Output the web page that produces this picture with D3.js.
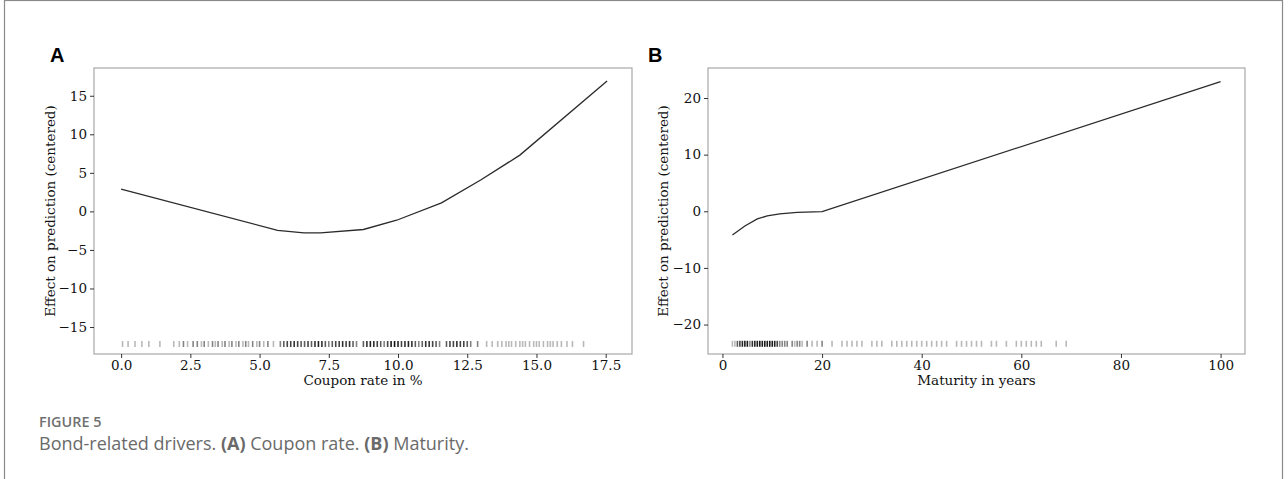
<!DOCTYPE html>
<html>
<head>
<meta charset="utf-8">
<script src="https://cdn.jsdelivr.net/npm/d3@7"></script>
<style>
    body { margin: 0; background: #fff; }
    .tick text { font-family: "DejaVu Serif", serif; font-size: 13.5px; fill: #111; }
    .tick line { stroke: #333; }
    .domain { display: none; }
    .pdp { fill: none; stroke: #2b2b2b; stroke-width: 1.3; }
    .axlabel { font-family: "DejaVu Serif", serif; font-size: 13.5px; fill: #111; }
    .panel { font-family: "Liberation Sans", Arial, sans-serif; font-weight: bold; font-size: 20px; }
</style>
</head>
<body>
<svg id="fig" width="1288" height="479"></svg>
<script>
    // panel A - coupon rate
    let couponX = [0, 5.65, 6.6, 7.2, 8.75, 9.95, 11.57, 13.0, 14.4, 17.55];
    let couponY = [2.9, -2.45, -2.78, -2.78, -2.35, -1.15, 1.1, 4.1, 7.3, 16.9];
    let couponYTicks = [-15, -10, -5, 0, 5, 10, 15];
    let couponXTicks = [0, 2.5, 5, 7.5, 10, 12.5, 15, 17.5];
    let couponRugLevel = -17.2;
    let couponRugValues = [0.05, 0.25, 0.5, 0.75, 1.0, 1.4, 1.9, 2.1, 2.25, 2.4, 2.6, 2.75, 2.9, 3.0, 3.15, 3.3, 3.4, 3.5, 3.65, 3.75, 3.9, 4.0, 4.15, 4.25, 4.4, 4.5, 4.6, 4.75, 4.9, 5.0, 5.15, 5.3, 5.5,
        5.75, 5.875, 6.0, 6.125, 6.25, 6.375, 6.5, 6.625, 6.75, 6.875, 7.0, 7.125, 7.25, 7.375, 7.5, 7.625, 7.75, 7.875, 8.0, 8.125, 8.25, 8.375, 8.5, 8.75, 8.875, 9.0, 9.125, 9.25, 9.375, 9.5, 9.625, 9.75, 9.875, 10.0, 10.125, 10.25, 10.375, 10.5, 10.625, 10.75, 10.875, 11.0, 11.125, 11.25, 11.375, 11.5, 11.75, 11.875, 12.0, 12.125, 12.25, 12.375, 12.5, 12.625, 12.875,
        13.2, 13.4, 13.6, 13.75, 13.9, 14.0, 14.1, 14.25, 14.4, 14.5, 14.6, 14.75, 14.9, 15.0, 15.1, 15.25, 15.4, 15.5, 15.6, 15.75, 15.9, 16.1, 16.3, 16.7];
    let couponRugCounts = [1, 1, 1, 1, 1, 1, 1, 1, 2, 1, 2, 2, 1, 2, 1, 2, 1, 2, 1, 2, 1, 2, 1, 2, 1, 2, 1, 2, 1, 2, 1, 2, 1,
        2, 3, 4, 4, 5, 4, 3, 3, 4, 3, 5, 6, 5, 3, 2, 3, 4, 4, 5, 4, 5, 3, 2, 3, 5, 6, 5, 4, 3, 2, 4, 7, 8, 6, 4, 5, 6, 5, 3, 2, 3, 5, 5, 4, 3, 2, 3, 4, 4, 5, 4, 4, 3, 2, 2,
        1, 1, 1, 1, 1, 1, 1, 1, 1, 1, 1, 1, 1, 1, 1, 1, 1, 1, 1, 1, 1, 1, 1, 1];

    // panel B - maturity
    let maturityX = [2, 4.5, 7, 9, 11.5, 15, 20, 100];
    let maturityY = [-4.2, -2.6, -1.35, -0.8, -0.45, -0.2, -0.05, 22.9];
    let maturityYTicks = [-20, -10, 0, 10, 20];
    let maturityXTicks = [0, 20, 40, 60, 80, 100];
    let maturityRugLevel = -23.4;
    let maturityRugValues = [2, 2.5, 3, 3.5, 4, 4.5, 5, 5.5, 6, 6.5, 7, 7.5, 8, 8.5, 9, 9.5, 10, 10.5, 11, 11.5, 12, 12.5, 13, 14, 14.5, 15, 15.5, 16, 17, 18, 19, 20,
        22, 24, 25, 26, 27, 28, 30, 31, 32, 34, 35, 36, 37, 38, 39, 40, 41, 42, 43, 44, 45, 47, 48, 49, 50, 51, 52, 54, 55, 57, 59, 60, 61, 62, 63, 64, 67, 69];
    let maturityRugCounts = [1, 1, 3, 4, 6, 7, 7, 2, 5, 6, 7, 7, 7, 7, 7, 7, 7, 6, 4, 2, 2, 2, 2, 2, 1, 2, 2, 1, 2, 1, 1, 2,
        1, 1, 1, 1, 1, 1, 1, 1, 1, 1, 1, 1, 1, 1, 1, 1, 1, 1, 1, 1, 1, 1, 1, 1, 1, 1, 1, 1, 1, 1, 1, 1, 1, 1, 1, 1, 1, 1];

    let svg = d3.select("#fig");

    // outer frame
    svg.append("rect")
        .attr("x", 4.5).attr("y", 0.5)
        .attr("width", 1278).attr("height", 500)
        .attr("fill", "none").attr("stroke", "#8a8a8a").attr("stroke-width", 1.2);

    function drawPanel(o){
        let g = svg.append("g");
        let x = d3.scaleLinear().domain(o.xDomain).range([o.left, o.right]);
        let y = d3.scaleLinear().domain(o.yDomain).range([o.bottom, o.top]);

        g.append("rect")
            .attr("x", o.left).attr("y", o.top)
            .attr("width", o.right - o.left).attr("height", o.bottom - o.top)
            .attr("fill", "none").attr("stroke", "#a8a8a8").attr("stroke-width", 1.2);

        g.append("g")
            .attr("transform", "translate(0," + o.bottom + ")")
            .call(d3.axisBottom(x).tickValues(o.xTicks).tickFormat(o.xFormat).tickSize(4).tickPadding(2));
        g.append("g")
            .attr("transform", "translate(" + o.left + ",0)")
            .call(d3.axisLeft(y).tickValues(o.yTicks).tickFormat(d3.format("d")).tickSize(4).tickPadding(3));

        // rug
        let rug = o.rugValues.map((v, i) => ({v: v, c: o.rugCounts[i]}));
        g.append("g").selectAll("line").data(rug).join("line")
            .attr("x1", d => x(d.v)).attr("x2", d => x(d.v))
            .attr("y1", y(o.rugLevel) - 3).attr("y2", y(o.rugLevel) + 3)
            .attr("stroke", "#000").attr("stroke-width", 1.6)
            .attr("stroke-opacity", d => 1 - Math.pow(0.72, d.c));

        let pts = o.xs.map((v, i) => ({x: v, y: o.ys[i]}));
        g.append("path").datum(pts).attr("class", "pdp")
            .attr("d", d3.line().x(d => x(d.x)).y(d => y(d.y)));

        g.append("text").attr("class", "axlabel")
            .attr("x", (o.left + o.right) / 2).attr("y", o.bottom + 31)
            .attr("text-anchor", "middle").text(o.xLabel);
        g.append("text").attr("class", "axlabel")
            .attr("transform", "translate(" + o.yLabelX + "," + (o.top + o.bottom) / 2 + ") rotate(-90)")
            .attr("text-anchor", "middle").attr("dy", "0.35em")
            .text("Effect on prediction (centered)");
        g.append("text").attr("class", "panel")
            .attr("x", o.tagX).attr("y", 62).text(o.tag);
    }

    drawPanel({
        left: 94, right: 632, top: 68, bottom: 354,
        xDomain: [-0.98, 18.45], yDomain: [-18.5, 18.6],
        xTicks: couponXTicks, yTicks: couponYTicks, xFormat: d3.format(".1f"),
        xs: couponX, ys: couponY,
        rugValues: couponRugValues, rugCounts: couponRugCounts, rugLevel: couponRugLevel,
        xLabel: "Coupon rate in %", yLabelX: 50, tag: "A", tagX: 50
    });

    drawPanel({
        left: 708, right: 1245, top: 68, bottom: 354,
        xDomain: [-2.9, 104.9], yDomain: [-25.2, 25.3],
        xTicks: maturityXTicks, yTicks: maturityYTicks, xFormat: d3.format("d"),
        xs: maturityX, ys: maturityY,
        rugValues: maturityRugValues, rugCounts: maturityRugCounts, rugLevel: maturityRugLevel,
        xLabel: "Maturity in years", yLabelX: 663, tag: "B", tagX: 648
    });

    // caption
    svg.append("text")
        .attr("x", 39).attr("y", 427)
        .style("font-family", "'Open Sans', sans-serif").style("font-size", "14.4px")
        .style("font-weight", "600").style("fill", "#707070")
        .text("FIGURE 5");
    let cap = svg.append("text")
        .attr("x", 39).attr("y", 450)
        .style("font-family", "'Open Sans', sans-serif").style("font-size", "18px")
        .style("fill", "#6a6a6a");
    cap.append("tspan").text("Bond-related drivers. ");
    cap.append("tspan").style("font-weight", "bold").text("(A)");
    cap.append("tspan").text(" Coupon rate. ");
    cap.append("tspan").style("font-weight", "bold").text("(B)");
    cap.append("tspan").text(" Maturity.");
</script>
</body>
</html>
